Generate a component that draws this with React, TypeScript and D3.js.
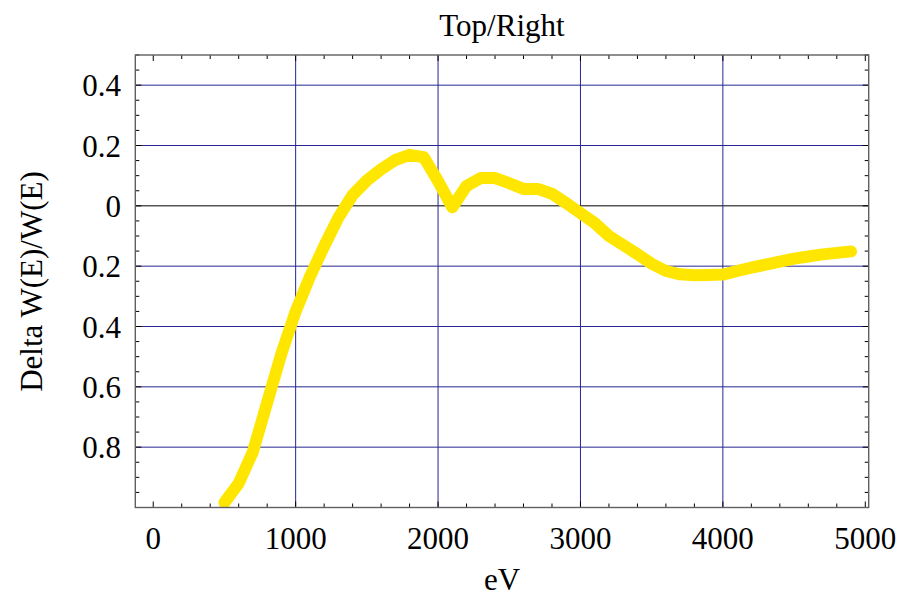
import React from "react";
import * as d3 from "d3";

// Energy grid (eV) and relative change of W(E)
const energy = [
  500, 600, 700, 800, 900, 1000, 1100, 1200, 1300, 1400, 1500, 1600, 1700, 1800,
  1900, 2000, 2100, 2200, 2300, 2400, 2500, 2600, 2700, 2800, 2900, 3000, 3100,
  3200, 3300, 3400, 3500, 3600, 3700, 3800, 3900, 4000, 4100, 4200, 4300, 4400,
  4500, 4600, 4700, 4800, 4900,
];
const deltaW = [
  -0.984, -0.92, -0.815, -0.652, -0.49, -0.35, -0.235, -0.134, -0.039, 0.036,
  0.084, 0.121, 0.152, 0.169, 0.161, 0.082, -0.005, 0.066, 0.092, 0.092, 0.075,
  0.056, 0.056, 0.04, 0.009, -0.024, -0.057, -0.1, -0.13, -0.16, -0.192, -0.216,
  -0.227, -0.23, -0.229, -0.228, -0.216, -0.205, -0.195, -0.185, -0.175, -0.168,
  -0.161, -0.156, -0.151,
];

const xMajor = [0, 1000, 2000, 3000, 4000, 5000];
const xGrid = [1000, 2000, 3000, 4000];
const yLabelled = [0.4, 0.2, 0, -0.2, -0.4, -0.6, -0.8];

const W = 904;
const H = 598;
const left = 135.3;
const right = 868.7;
const top = 55;
const bottom = 507.5;

const FONT = "'Liberation Serif', 'Times New Roman', serif";
const GRID = "#262690";
const FRAME = "#606060";

export default function App() {
  const x = d3.scaleLinear().domain([-126, 5024]).range([left, right]);
  const y = d3.scaleLinear().domain([-1, 0.5]).range([bottom, top]);

  const xMinor = d3.range(0, 5001, 200);
  const yMinor = d3.range(-1, 0.5001, 0.05).map((v) => Math.round(v * 100) / 100);

  const line = d3
    .line<number>()
    .x((_, i) => x(energy[i]))
    .y((d) => y(d));

  const tickLabel = (v: number) => (v === 0 ? "0" : Math.abs(v).toFixed(1));

  return (
    <svg
      width={W}
      height={H}
      style={{ position: "fixed", left: 0, top: 0, background: "#fff" }}
    >
      <defs>
        <clipPath id="plot-area">
          <rect x={left} y={top} width={right - left} height={bottom - top} />
        </clipPath>
      </defs>
      <rect x={0} y={0} width={W} height={H} fill="#fff" />

      {/* grid */}
      {yLabelled.map((v) => (
        <line
          key={"gy" + v}
          x1={left}
          x2={right}
          y1={y(v)}
          y2={y(v)}
          stroke={v === 0 ? "#000" : GRID}
          strokeWidth={1}
        />
      ))}
      {xGrid.map((v) => (
        <line
          key={"gx" + v}
          x1={x(v)}
          x2={x(v)}
          y1={top}
          y2={bottom}
          stroke={GRID}
          strokeWidth={1}
        />
      ))}

      {/* ticks on all four sides */}
      {xMinor.map((v) => {
        const len = v % 1000 === 0 ? 6 : 4;
        return (
          <g key={"tx" + v} stroke="#000" strokeWidth={1}>
            <line x1={x(v)} x2={x(v)} y1={bottom} y2={bottom - len} />
            <line x1={x(v)} x2={x(v)} y1={top} y2={top + len} />
          </g>
        );
      })}
      {yMinor.map((v) => {
        const len = Math.abs((v * 10) % 2) < 1e-6 ? 6 : 4;
        return (
          <g key={"ty" + v} stroke="#000" strokeWidth={1}>
            <line x1={left} x2={left + len} y1={y(v)} y2={y(v)} />
            <line x1={right} x2={right - len} y1={y(v)} y2={y(v)} />
          </g>
        );
      })}

      {/* data curve */}
      <path
        d={line(deltaW) ?? ""}
        fill="none"
        stroke="#ffe600"
        strokeWidth={12}
        strokeLinecap="round"
        strokeLinejoin="round"
        clipPath="url(#plot-area)"
      />

      {/* frame */}
      <rect
        x={left}
        y={top}
        width={right - left}
        height={bottom - top}
        fill="none"
        stroke={FRAME}
        strokeWidth={1.4}
      />

      {/* tick labels */}
      <g fontFamily={FONT} fontSize={31} fill="#000">
        {xMajor.map((v) => (
          <text key={"lx" + v} x={x(v)} y={549} textAnchor="middle">
            {v}
          </text>
        ))}
        {yLabelled.map((v) => (
          <text key={"ly" + v} x={121} y={y(v) + 11} textAnchor="end">
            {tickLabel(v)}
          </text>
        ))}
      </g>

      {/* titles */}
      <g fontFamily={FONT} fontSize={31} fill="#000">
        <text x={502} y={36} textAnchor="middle">
          Top/Right
        </text>
        <text x={502} y={590} textAnchor="middle">
          eV
        </text>
        <text
          transform={`translate(41.5, 281.5) rotate(-90)`}
          textAnchor="middle"
        >
          Delta W(E)/W(E)
        </text>
      </g>
    </svg>
  );
}
